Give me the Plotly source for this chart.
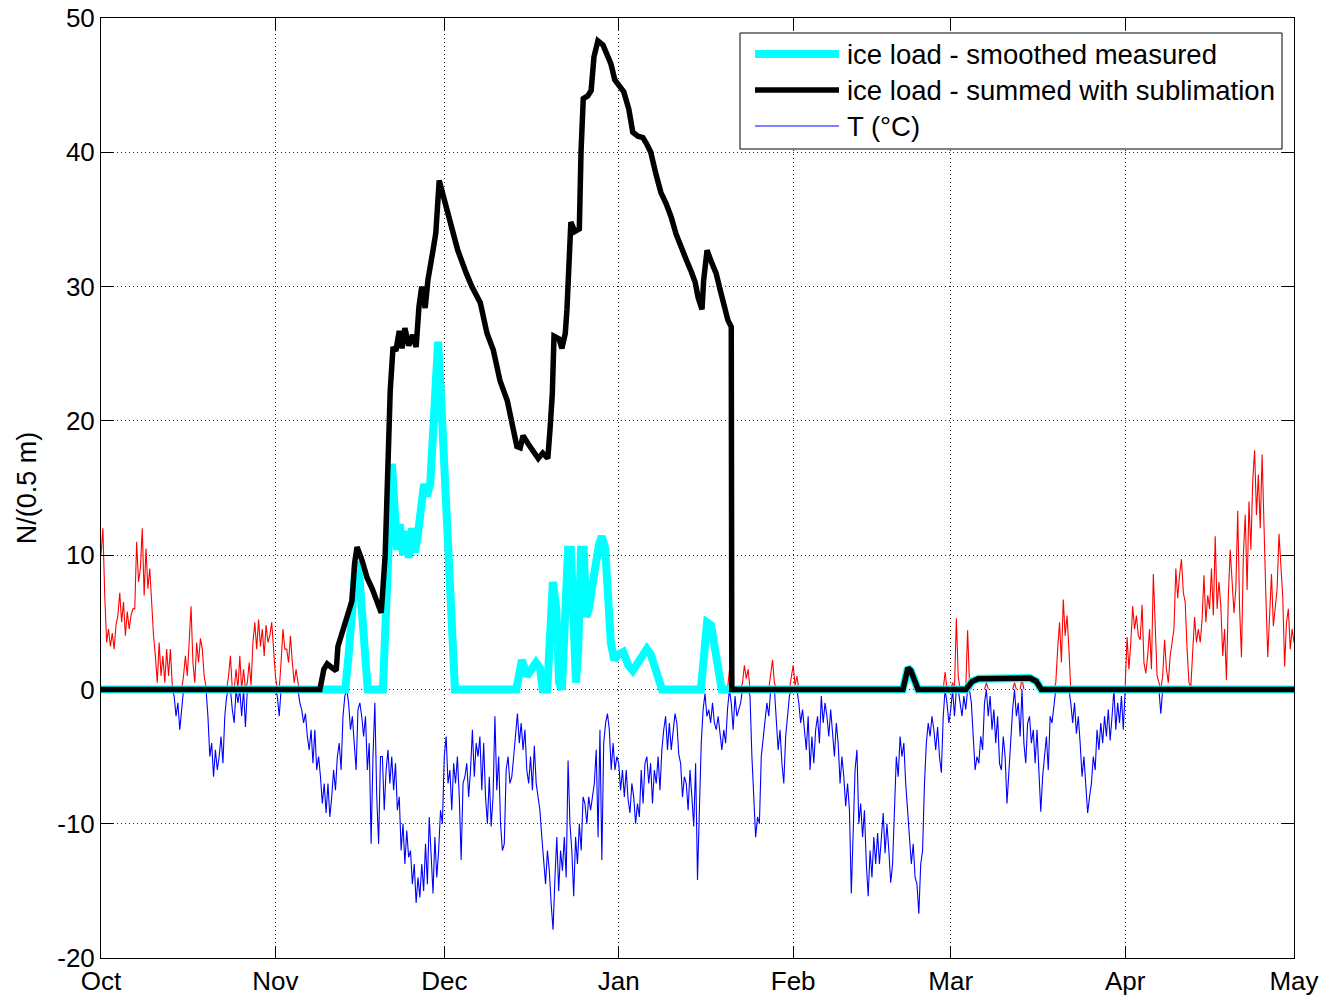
import numpy as np
import pandas as pd
import plotly.graph_objects as go

# ---------------------------------------------------------------------------
# Data
# ---------------------------------------------------------------------------
season_start = pd.Timestamp("2010-10-01")
month_ticks = ["2010-10-01", "2010-11-01", "2010-12-01", "2011-01-01",
               "2011-02-01", "2011-03-01", "2011-04-01", "2011-05-01"]
month_labels = ["Oct", "Nov", "Dec", "Jan", "Feb", "Mar", "Apr", "May"]
load_ticks = [-20, -10, 0, 10, 20, 30, 40, 50]
load_labels = ["-20", "-10", "0", "10", "20", "30", "40", "50"]

# Air temperature (°C), three readings per day (every 8 h)
t_oct = [10, 12, 7, 3.5, 4.5, 3.2, 4.2, 3, 4.8, 5.5, 7.2, 5, 6.5, 4, 5.8,
         4.5, 5.5, 6, 6, 11, 8, 9, 12, 7, 10.5, 7.5, 9, 6, 4, 2.5,
         0.5, 3.5, 1, 2.5, 0.5, 3, 1, 3, 0.3, -0.5, -2, -1, -3, -1.5, 1,
         2.5, 1, 3.5, 6.2, 2, 0.5, 3.5, 2, 3.8, 3, 1, 0.2, -2, -5, -4,
         -6.5, -4.5, -6, -5, -3.5, -5.5, -2, -0.5, 1, 2.5, -1.5, -2.5,
         1.5, -1, 2.5, -2, 1.5, -2.8, 0.5, 2, 0.3, 3.5, 5, 3, 5.2, 3.2, 4.5,
         2.5, 4.8, 3.5, 4, 5, 3]
t_nov = [1, -0.5, -2, 2, 4.5, 3, 3, 2, 4, 2, 0.5, 1.5, 0.5, -1, -1.5,
         -2.5, -1.8, -3.5, -4.5, -3, -5.5, -3, -6, -5, -6.5, -8.5, -7,
         -9.2, -7, -9.5, -8, -6, -7.5, -5, -4, -6, -2, -0.5, 1.2,
         -1, -3, -2, -4, -6, -1.5, -1, -2, -3.5, -2, -6, -4,
         -11.5, -5, -1, -8, -11.5, -5, -5, -9, -6, -4.5, -7, -5,
         -7.5, -5.5, -9, -8, -12, -10, -13, -10.5, -12.5, -12, -14.5, -13,
         -15.9, -14, -15.5, -13, -15, -11.5, -14.5, -9.5, -13,
         -15.2, -11, -14, -12, -9, -10]
t_dec = [-5, -3.5, -7, -6, -9, -5.5, -7, -5, -8, -12.7, -7, -6.5,
         -5.5, -8, -6, -3, -6.5, -4, -5, -3.5, -7.5, -4, -8, -10,
         -6.5, -10.2, -8, -2, -7.5, -5, -10, -12, -11.5, -6, -5, -7,
         -6.5, -5, -3, -1.8, -4, -2.5, -4.5, -3, -6, -7, -5, -7.5,
         -4.2, -7, -8, -9, -11, -13, -14.5, -12, -13.5, -16, -17.9, -14,
         -11, -15, -12, -13.5, -11, -14, -5.3, -10, -12, -15.4, -11, -13,
         -10, -12, -8, -8.5, -10, -8, -9, -8, -7, -4.5, -11, -3,
         -12.7, -4, -2.5, -1.8, -3, -6, -4, -6, -5]
t_jan = [-5.5, -7.5, -6, -8, -6, -8.2, -9.2, -7, -8, -10, -8.5, -9.5,
         -6, -8.5, -5.5, -5, -7, -5.5, -8.5, -6, -7, -5, -7.5, -4.5,
         -3, -2, -4.5, -2.5, -4.5, -3, -1.8, -2.5, -4.8, -5.5, -8, -6.5,
         -7, -9, -6, -8, -10.2, -5.5, -14.2, -9, -4, -1.5, -0.3, -2,
         -1.5, -2.5, -1, -2.5, -3, -2, -3.5, -4.5, -3, -4, -1.5, 1.4,
         -1, -3, -0.5, -2, -1.5, -1, 0.5, 1.8, 0.8, 1.5, -0.5, -5,
         -8.5, -11, -9.5, -10, -5, -3.8, -2.5, -1, -2, 1, 2.2, 0.5,
         -2, -4.5, -3, -5.5, -7, -3.5, -2, -0.5, 0.8]
t_feb = [1.8, 0.3, 1, -1, -2.5, -1.5, -3, -4.5, -2, -6, -3.5, -5.5,
         -3, -2, -4, -0.5, -2.5, -1, -2, -3.5, -1.5, -3, -5, -2.5,
         -4, -7, -5, -6.5, -8.7, -7, -9, -15.2, -11, -6, -4.5, -10,
         -8.5, -11, -9, -13, -15.4, -12, -14, -11, -13, -10.7, -13, -11,
         -9.2, -12.2, -10, -12, -14.4, -13, -9, -5, -6.5, -3.5, -5, -4,
         -7, -9.5, -11, -13, -11.5, -14, -14.5, -16.7, -13, -12, -7, -4,
         -2.5, -3.5, -2, -3, -4.5, -2.8, -5, -6.2, -2, 1.3, -1, -2.5]
t_mar = [-1.5, 0.5, -2, 5.3, 1, -1, -2, -0.5, -1.5, 4.4, 0.5, -1,
         -4, -6, -5, -5.5, -3.5, -4.5, -1, 0.5, -2, -0.5, -3, -1.5,
         -4, -2, -5.5, -6, -3.5, -5, -8.5, -6, -3, -1.5, 0.5, -2,
         -1, -3.5, 0.8, -4, -5.5, -2.5, -2, -4, -3, -5.5, -3, -6,
         -9.1, -6.5, -5, -3.5, -6, -2, -2.5, -1, 0.5, 3, 5, 2,
         6.7, 4, 5.5, 3, -1, -2.5, -1, -3.3, -2, -4, -6.5, -5,
         -7, -9.2, -8, -7, -5, -6, -3, -4.5, -2.5, -4, -2, -3.5,
         -1.5, -3.8, -2, 0.2, -3, -1, -2.5, -0.5, -3]
t_apr = [0.2, 3.9, 1.5, 3.5, 6.2, 4.5, 5.5, 4, 3.7, 6.3, 2, 1.2,
         2.5, 4.5, 1.5, 8.6, 5, 1, 0.5, -1.8, 1, 3.7, 1.5, 0.5,
         2.5, 3.5, 4.5, 9, 6.8, 8.5, 9.7, 7.2, 6.5, 3, 0.5, 0.2,
         2.7, 5.4, 3.5, 4.5, 3.5, 5.2, 8.5, 5, 7, 6, 9, 5.5,
         11.4, 6, 8, 6.2, 2.5, 4.5, 0.7, 7, 10.4, 8, 5.7, 7.5,
         13.3, 6, 2.4, 10, 13, 7.4, 14, 10.4, 15.5, 17.8, 13, 16,
         12, 17.5, 11, 7, 2.4, 5, 8.6, 4.7, 6, 7.5, 11.6, 9,
         6.9, 1.7, 5, 6, 3, 4.5, 3.5]

# Ice load, smoothed measured (N per 0.5 m); time in days since 1 Oct
measured_days = [0, 43.4, 44.1, 44.6, 45.3, 45.9, 46.4, 46.9, 47.4, 50.1,
                 50.6, 51.2, 51.7, 52.1, 52.6, 53.1, 53.7, 54.2, 54.7, 55.3,
                 55.8, 56.3, 56.9, 57.4, 57.9, 58.5, 59.0, 59.5, 59.9, 60.4,
                 61.0, 61.5, 62.0, 62.6, 62.9, 73.8, 74.3, 74.8, 75.7, 76.4,
                 77.3, 78.0, 78.5, 79.3, 79.8, 80.3, 80.9, 81.4, 81.9, 82.5,
                 83.0, 83.5, 84.0, 84.4, 84.8, 85.3, 85.8, 86.2, 86.7, 87.3,
                 87.8, 88.5, 89.0, 89.6, 90.1, 90.6, 91.2, 91.9, 92.8, 93.7,
                 94.5, 95.4, 96.3, 97.0, 97.7, 98.5, 99.2, 99.7, 106.6, 107.2,
                 107.7, 108.4, 109.1, 109.6, 110.3, 142.5, 143.1, 143.4, 143.9, 144.7,
                 145.2, 153.7, 154.8, 155.9, 159.8, 163.3, 165.1, 166.2, 167.1, 212]
measured_load = [0, 0, 3, 6.5, 9.5, 8.5, 5, 2, 0, 0,
                 5, 11, 16.8, 14, 10.4, 12.3, 10, 11.8, 9.8, 12,
                 10.2, 11.5, 14.5, 15.3, 14.4, 15.3, 19, 22.5, 25.9, 22,
                 17, 11.5, 6, 1.5, 0, 0, 1.5, 2.2, 1.0, 1.4,
                 2.0, 1.6, 0, 0, 6, 8.0, 6, 0.5, 0, 6,
                 10.4, 10.4, 4, 0.5, 3, 10.4, 10.4, 5.4, 6, 8,
                 9, 10.8, 11.4, 10.5, 7, 3.5, 2.2, 2.6, 2.8, 1.8,
                 1.4, 2.0, 2.8, 3.0, 2.6, 1.4, 0.3, 0, 0, 3,
                 5.0, 4.8, 3.2, 1.5, 0, 0, 1.0, 1.6, 1.4, 0.5,
                 0, 0, 0.6, 0.8, 0.85, 0.9, 0.85, 0.6, 0, 0]

# Ice load, summed with sublimation (N per 0.5 m)
summed_days = [0, 38.9, 39.6, 40.2, 41.1, 41.8, 42.1, 43.0, 43.9, 44.6,
               45.1, 45.5, 46.4, 47.3, 48.2, 49.0, 49.8, 50.5, 51.0, 51.4,
               51.9, 52.4, 53.0, 53.5, 54.0, 54.7, 55.4, 56.0, 56.5, 57.0,
               57.6, 58.1, 59.0, 59.5, 60.1, 61.1, 62.2, 63.4, 64.9, 65.9,
               67.4, 68.6, 69.7, 70.9, 72.2, 73.2, 73.9, 74.5, 75.0, 75.9,
               76.8, 77.7, 78.5, 79.4, 79.8, 80.2, 80.5, 81.4, 81.9, 82.5,
               82.8, 83.2, 83.5, 84.2, 85.0, 85.3, 85.7, 86.5, 87.1, 87.6,
               88.3, 89.2, 89.9, 90.6, 91.3, 92.2, 92.9, 93.8, 94.5, 95.4,
               96.3, 97.0, 97.7, 98.6, 99.5, 100.4, 101.3, 102.2, 103.1, 104.0,
               104.9, 105.6, 106.1, 106.8, 107.1, 107.7, 108.5, 109.3, 110.0, 110.7,
               111.4, 112.0, 112.1, 142.5, 143.1, 143.4, 143.9, 144.7, 145.2, 153.7,
               154.8, 155.9, 159.8, 163.3, 165.1, 166.2, 167.1, 212]
summed_load = [0, 0, 1.5, 1.9, 1.6, 1.4, 3.2, 4.5, 5.8, 6.6,
               9.5, 10.6, 9.6, 8.3, 7.5, 6.7, 5.7, 10, 17, 22.3,
               25.5, 25.2, 26.7, 25.4, 26.9, 25.6, 26.4, 25.5, 28.5, 30.0,
               28.4, 30.5, 32.7, 34, 37.9, 36.3, 34.5, 32.7, 31.0, 30,
               28.8, 26.5, 25.3, 23.0, 21.5, 19.5, 18.1, 18.0, 18.9, 18.3,
               17.8, 17.2, 17.6, 17.2, 19.4, 22, 26.3, 26.1, 25.4, 26.5,
               28.3, 32, 34.8, 34.1, 34.3, 40, 44.0, 44.2, 44.6, 47.1,
               48.3, 48.0, 47.2, 46.6, 45.4, 44.9, 44.5, 43.2, 41.5, 41.2,
               41.1, 40.6, 40.0, 38.4, 37.0, 36.2, 35.2, 33.9, 32.8, 32.0,
               31.1, 30.3, 29.2, 28.3, 30.5, 32.7, 31.8, 31.0, 29.8, 28.6,
               27.5, 27.0, 0, 0, 1.0, 1.6, 1.4, 0.5, 0, 0,
               0.6, 0.8, 0.85, 0.9, 0.85, 0.6, 0, 0]

# ---------------------------------------------------------------------------
# Series preparation
# ---------------------------------------------------------------------------
temp = np.array(t_oct + t_nov + t_dec + t_jan + t_feb + t_mar + t_apr, dtype=float)
temp_time = pd.date_range(season_start, periods=len(temp), freq="8h")


def split_at_freezing(values, warm):
    """Keep one side of 0 °C, clipping the neighbouring samples to 0 so each
    excursion starts and ends on the zero line; everything else becomes a gap."""
    side = values > 0 if warm else values < 0
    near = side.copy()
    near[1:] |= side[:-1]
    near[:-1] |= side[1:]
    clipped = np.maximum(values, 0) if warm else np.minimum(values, 0)
    return np.where(near, clipped, np.nan)


temp_warm = split_at_freezing(temp, warm=True)    # above freezing -> red
temp_cold = split_at_freezing(temp, warm=False)   # below freezing -> blue

measured_time = season_start + pd.to_timedelta(measured_days, unit="D")
summed_time = season_start + pd.to_timedelta(summed_days, unit="D")

FONT = "Liberation Sans, Arial, Helvetica, sans-serif"
CYAN = "#00ffff"
BLUE = "#0000ff"
RED = "#ff0000"

fig = go.Figure()
fig.add_trace(go.Scatter(x=temp_time, y=temp_warm, mode="lines",
                         line=dict(color=RED, width=1.1), connectgaps=False,
                         showlegend=False, hoverinfo="skip"))
fig.add_trace(go.Scatter(x=temp_time, y=temp_cold, mode="lines",
                         line=dict(color=BLUE, width=1.1), connectgaps=False,
                         name="T (°C)", showlegend=False))
fig.add_trace(go.Scatter(x=measured_time, y=measured_load, mode="lines",
                         line=dict(color=CYAN, width=8),
                         name="ice load - smoothed measured", showlegend=False))
fig.add_trace(go.Scatter(x=summed_time, y=summed_load, mode="lines",
                         line=dict(color="black", width=5.5),
                         name="ice load - summed with sublimation",
                         showlegend=False))

# ---------------------------------------------------------------------------
# Layout
# ---------------------------------------------------------------------------
L, R, T, B = 101, 37, 18, 42
W, H = 1331, 1000
plot_w, plot_h = W - L - R, H - T - B


def px_x(px):
    return (px - L) / plot_w


def px_y(py):
    return (H - B - py) / plot_h


axis_common = dict(
    showline=True, linecolor="black", linewidth=1, mirror="ticks",
    ticks="inside", ticklen=12, tickwidth=1, tickcolor="black",
    showgrid=True, gridcolor="#222222", gridwidth=1, griddash="1px,3px",
    zeroline=False, automargin=False,
    tickfont=dict(family=FONT, size=26, color="black"),
)

fig.update_xaxes(
    **axis_common,
    type="date",
    range=[month_ticks[0], month_ticks[-1]],
    tickvals=month_ticks, ticktext=month_labels,
)
fig.update_yaxes(
    **axis_common,
    range=[-20, 50], tickvals=load_ticks, ticktext=load_labels,
    title=dict(text="N/(0.5 m)", font=dict(family=FONT, size=27, color="black"),
               standoff=12),
)

# Legend box drawn by hand
shapes = [dict(type="rect", xref="paper", yref="paper",
               x0=px_x(740), x1=px_x(1282), y0=px_y(149), y1=px_y(33),
               line=dict(color="black", width=1), fillcolor="white", layer="above")]
legend_rows = [("ice load - smoothed measured", CYAN, 8, 54),
               ("ice load - summed with sublimation", "black", 5.5, 90),
               ("T (°C)", BLUE, 1, 126)]
annotations = []
for label, colour, width, py in legend_rows:
    shapes.append(dict(type="line", xref="paper", yref="paper",
                       x0=px_x(755), x1=px_x(839), y0=px_y(py), y1=px_y(py),
                       line=dict(color=colour, width=width), layer="above"))
    annotations.append(dict(xref="paper", yref="paper", x=px_x(845), y=px_y(py),
                            xanchor="left", yanchor="middle", showarrow=False,
                            text=label, font=dict(family=FONT, size=27.5, color="black")))

fig.update_layout(
    width=W, height=H,
    margin=dict(l=L, r=R, t=T, b=B, pad=0),
    paper_bgcolor="white", plot_bgcolor="white",
    font=dict(family=FONT, size=26, color="black"),
    shapes=shapes, annotations=annotations,
    showlegend=False,
)

fig.write_html("out.html")
